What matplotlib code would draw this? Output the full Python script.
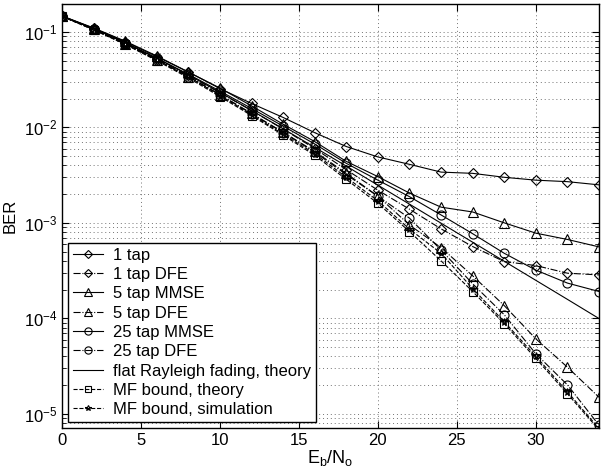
import matplotlib
matplotlib.use('Agg')
import matplotlib.pyplot as plt
from matplotlib.ticker import LogLocator, NullFormatter

plt.rcParams['font.family'] = ['Liberation Sans', 'DejaVu Sans']
plt.rcParams['mathtext.fontset'] = 'custom'
plt.rcParams['mathtext.rm'] = 'Liberation Sans'
plt.rcParams['mathtext.it'] = 'Liberation Sans:italic'
plt.rcParams['mathtext.bf'] = 'Liberation Sans:bold'

snr = [0, 2, 4, 6, 8, 10, 12, 14, 16, 18, 20, 22, 24, 26, 28, 30, 32, 34]

tap1 = [0.146, 0.109, 0.079, 0.055, 0.038, 0.0255, 0.0178, 0.0127, 0.0088, 0.0063,
        0.0049, 0.0041, 0.0034, 0.0033, 0.0030, 0.0028, 0.0027, 0.0025]
tap1_dfe = [0.146, 0.107, 0.076, 0.052, 0.035, 0.023, 0.0150, 0.0096, 0.0060, 0.0036,
            0.0022, 0.00139, 0.000865, 0.000565, 0.000393, 0.000357, 0.000297, 0.000285]
tap5_mmse = [0.147, 0.110, 0.080, 0.056, 0.038, 0.0258, 0.0168, 0.0108, 0.0071, 0.0044,
             0.00305, 0.00205, 0.00146, 0.00130, 0.00100, 0.00078, 0.00067, 0.00056]
tap5_dfe = [0.146, 0.106, 0.075, 0.051, 0.034, 0.022, 0.0140, 0.0089, 0.0056, 0.0033,
            0.0019, 0.00095, 0.00055, 0.000279, 0.000136, 0.000061, 0.0000308, 0.0000149]
tap25_mmse = [0.146, 0.108, 0.077, 0.053, 0.036, 0.024, 0.0158, 0.0103, 0.0067, 0.0042,
              0.0028, 0.00188, 0.00121, 0.00077, 0.00048, 0.00032, 0.000234, 0.000191]
tap25_dfe = [0.146, 0.106, 0.075, 0.051, 0.034, 0.022, 0.0139, 0.0088, 0.0055, 0.0032,
             0.0019, 0.00112, 0.00052, 0.00023, 0.000109, 0.0000425, 0.0000201, 0.0000076]
rayleigh = [0.1464, 0.1085, 0.0771, 0.0530, 0.0355, 0.0233, 0.01505, 0.00967, 0.00617, 0.00393,
            0.00248, 0.00157, 0.000992, 0.000627, 0.000396, 0.000250, 0.000158, 0.0000995]
mf_theory = [0.145, 0.105, 0.074, 0.050, 0.033, 0.021, 0.0133, 0.0083, 0.0051, 0.00285,
             0.0016, 0.00081, 0.00040, 0.000191, 0.000088, 0.000038, 0.0000162, 0.0000068]
mf_sim = [0.146, 0.106, 0.075, 0.051, 0.034, 0.0215, 0.0136, 0.0085, 0.0053, 0.0030,
          0.0017, 0.00086, 0.00048, 0.000205, 0.000092, 0.000040, 0.0000170, 0.0000070]

fig = plt.figure(figsize=(6.03, 4.74), dpi=100)
ax = fig.add_axes([0.1028, 0.097, 0.8906, 0.8946])

lw = 0.8
kw = dict(color='k', lw=lw, mfc='none', mec='k', mew=0.8)
ax.semilogy(snr, tap1, '-', marker='D', ms=5.5, label='1 tap', **kw)
ax.semilogy(snr, tap1_dfe, '-.', marker='D', ms=5.5, label='1 tap DFE', **kw)
ax.semilogy(snr, tap5_mmse, '-', marker='^', ms=6.5, label='5 tap MMSE', **kw)
ax.semilogy(snr, tap5_dfe, '-.', marker='^', ms=6.5, label='5 tap DFE', **kw)
ax.semilogy(snr, tap25_mmse, '-', marker='o', ms=6.5, label='25 tap MMSE', **kw)
ax.semilogy(snr, tap25_dfe, '-.', marker='o', ms=6.5, label='25 tap DFE', **kw)
ax.semilogy(snr, rayleigh, '-', color='k', lw=lw, label='flat Rayleigh fading, theory')
ax.semilogy(snr, mf_theory, '--', marker='s', ms=5.5, label='MF bound, theory', **kw)
ax.semilogy(snr, mf_sim, '--', marker='*', ms=5.5, label='MF bound, simulation', **kw)

ax.set_xlim(0, 34)
ax.set_ylim(7.1e-6, 0.196)
ax.set_xticks([0, 5, 10, 15, 20, 25, 30])
ax.yaxis.set_major_locator(LogLocator(base=10, numticks=10))
ax.yaxis.set_minor_locator(LogLocator(base=10, subs=range(2, 10), numticks=20))
ax.yaxis.set_minor_formatter(NullFormatter())

grid_style = dict(linestyle=(0, (1, 3)), color='0.45', lw=0.7)
ax.grid(True, which='major', **grid_style)
ax.grid(True, which='minor', axis='y', **grid_style)
ax.tick_params(which='both', direction='in', top=True, right=True, labelsize=12)
ax.tick_params(which='major', length=5)
ax.tick_params(which='minor', length=3)
for s in ax.spines.values():
    s.set_linewidth(1.0)

ax.set_xlabel(r'$\mathregular{E_b/N_o}$', fontsize=13, labelpad=0)
ax.set_ylabel('BER', fontsize=12)

leg = ax.legend(loc='lower left', fontsize=12, fancybox=False, edgecolor='k',
                framealpha=1, handlelength=1.8, handletextpad=0.6,
                labelspacing=0.26, borderaxespad=0.35, borderpad=0.3,
                markerscale=0.8)
leg.get_frame().set_linewidth(1.0)

fig.savefig('out.png', dpi=100)
